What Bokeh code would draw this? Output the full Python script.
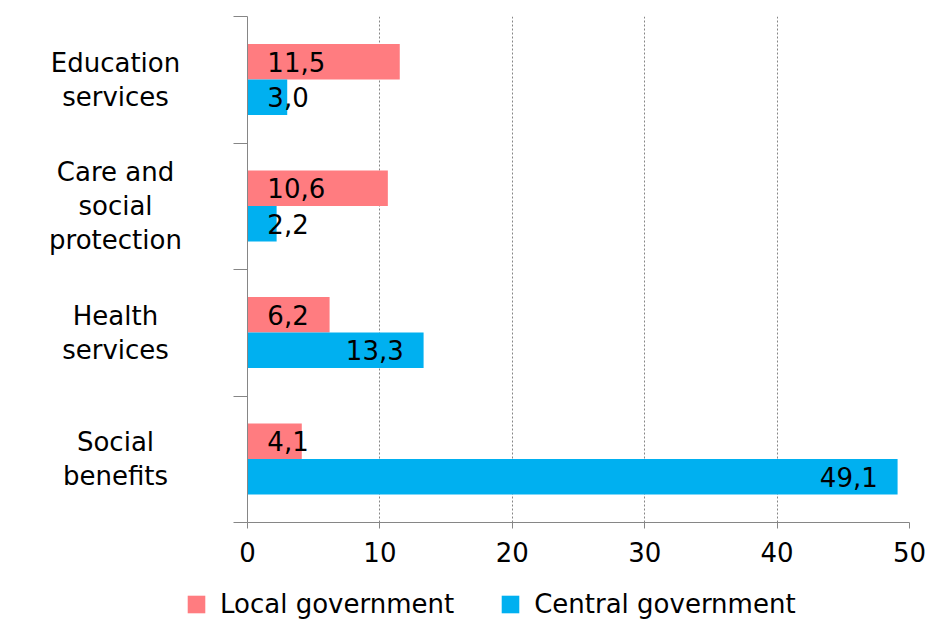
from bokeh.plotting import figure
from bokeh.models import ColumnDataSource, FixedTicker, Legend, LegendItem, Range1d
from bokeh.layouts import row, column
from bokeh.core.properties import value, field
from bokeh.embed import file_html
from bokeh.resources import INLINE

# ---- data ----
categories = ["Education\nservices", "Care and\nsocial\nprotection", "Health\nservices", "Social\nbenefits"]
local_gov = [11.5, 10.6, 6.2, 4.1]
central_gov = [3.0, 2.2, 13.3, 49.1]
series_names = ["Local government", "Central government"]
x_ticks = [0, 10, 20, 30, 40, 50]

FONT = "DejaVu Sans"
PINK = "#FF7C80"
BLUE = "#00B0F0"
GRAY = "#868686"
FS = "26px"

n = len(categories)
yc = [n - i - 0.5 for i in range(n)]
BAR_H = 0.28
OFF = 0.142


def fmt(v):
    return f"{v:.1f}".replace(".", ",")


def label_pos(v):
    return (v - 1.5, "right") if v >= 12 else (1.5, "left")


def make_source(vals, off):
    xs, al = zip(*[label_pos(v) for v in vals])
    return ColumnDataSource(dict(
        y=[c + off for c in yc],
        v=vals,
        lx=list(xs),
        al=list(al),
        txt=[fmt(v) for v in vals],
    ))


src_local = make_source(local_gov, OFF)
src_central = make_source(central_gov, -OFF + 0.004)

TOP = 16
BOTTOM = 53
H = TOP + 506 + BOTTOM

main = figure(width=700, height=H, x_range=Range1d(0, 50), y_range=Range1d(0, n),
              output_backend="svg", toolbar_location=None,
              min_border_left=20, min_border_right=18, min_border_top=TOP, min_border_bottom=BOTTOM)
main.outline_line_color = None

r_local = main.hbar(y="y", left=0, right="v", height=BAR_H, source=src_local,
                    fill_color=PINK, line_color=None)
r_central = main.hbar(y="y", left=0, right="v", height=BAR_H, source=src_central,
                      fill_color=BLUE, line_color=None)

for src in (src_local, src_central):
    main.text(x="lx", y="y", text="txt", source=src, text_align=field("al"),
              text_baseline="middle", text_font=value(FONT), text_font_size=FS,
              text_color="#000000")

# x axis
xa = main.xaxis[0]
xa.ticker = FixedTicker(ticks=x_ticks)
xa.major_label_text_font = FONT
xa.major_label_text_font_size = FS
xa.major_label_text_color = "#000000"
xa.axis_line_color = GRAY
xa.major_tick_line_color = GRAY
xa.major_tick_in = 0
xa.major_tick_out = 6
xa.minor_tick_out = 0
xa.minor_tick_in = 0
xa.major_label_standoff = 13

# y axis (ticks at category boundaries, no labels)
ya = main.yaxis[0]
ya.ticker = FixedTicker(ticks=list(range(n + 1)))
ya.major_label_overrides = {i: "" for i in range(n + 1)}
ya.major_label_standoff = 0
ya.axis_line_color = GRAY
ya.major_tick_line_color = GRAY
ya.major_tick_in = 0
ya.major_tick_out = 14
ya.minor_tick_out = 0
ya.minor_tick_in = 0

main.xgrid.ticker = FixedTicker(ticks=x_ticks[1:])
main.xgrid.grid_line_color = GRAY
main.xgrid.grid_line_dash = "2 2"
main.ygrid.visible = False

# category labels panel
LW = 227
left = figure(width=LW, height=H, x_range=Range1d(0, LW), y_range=main.y_range,
              output_backend="svg", toolbar_location=None,
              x_axis_location=None, y_axis_location=None,
              min_border_left=0, min_border_right=0, min_border_top=TOP, min_border_bottom=BOTTOM)
left.outline_line_color = None
left.center = []
cat_src = ColumnDataSource(dict(y=yc, t=categories, x=[115] * n))
left.text(x="x", y="y", text="t", source=cat_src, text_align="center", text_baseline="middle",
          text_font=value(FONT), text_font_size=FS, text_color="#000000", text_line_height=1.14)

# legend panel
leg = figure(width=927, height=44, x_range=Range1d(0, 1), y_range=Range1d(0, 1),
             output_backend="svg", toolbar_location=None,
             x_axis_location=None, y_axis_location=None,
             min_border_left=0, min_border_right=0, min_border_top=2, min_border_bottom=0)
leg.outline_line_color = None
leg.center = []
# off-screen proxies used only for the legend swatches
d1 = leg.hbar(y=[5], left=[5], right=[6], height=0.5, fill_color=PINK, line_color=None)
d2 = leg.hbar(y=[5], left=[5], right=[6], height=0.5, fill_color=BLUE, line_color=None)
legend = Legend(items=[LegendItem(label=series_names[0], renderers=[d1]),
                       LegendItem(label=series_names[1], renderers=[d2])],
                orientation="horizontal", location=(185, 0),
                label_text_font=FONT, label_text_font_size=FS, label_text_color="#000000",
                glyph_width=22, glyph_height=22, label_standoff=13, spacing=45,
                padding=0, margin=0, border_line_color=None, background_fill_alpha=0)
leg.add_layout(legend, "center")

layout = column(row(left, main), leg)
open("out.html", "w").write(file_html(layout, INLINE))
